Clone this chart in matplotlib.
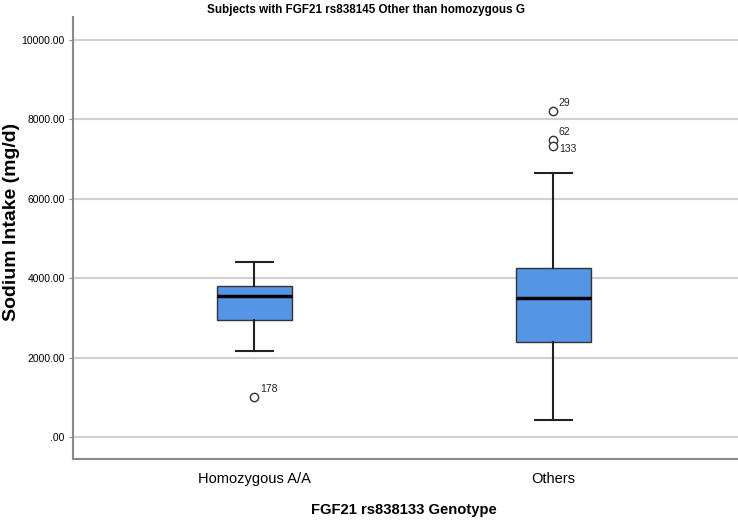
import matplotlib
matplotlib.use('Agg')
import matplotlib.pyplot as plt

# datos
categorias = ["Homozygous A/A", "Others"]
# (whislo, q1, mediana, q3, whishi)
cajas = [
    (2164, 2959, 3555, 3806, 4403),
    (428, 2390, 3512, 4259, 6657),
]
atipicos = [
    [(1021, "178")],
    [(8209, "29"), (7479, "62"), (7336, "133")],
]
yticks = [0, 2000, 4000, 6000, 8000, 10000]
ytick_labels = [".00", "2000.00", "4000.00", "6000.00", "8000.00", "10000.00"]

plt.rcParams['font.family'] = ['Liberation Sans', 'DejaVu Sans']

fig = plt.figure(figsize=(7.38, 5.23), dpi=100)
ax = fig.add_axes([0.0989, 0.1218, 0.9011, 0.8452])

stats = []
for cat, c in zip(categorias, cajas):
    stats.append(dict(label=cat, whislo=c[0], q1=c[1], med=c[2], q3=c[3], whishi=c[4], fliers=[]))

ax.bxp(stats, positions=[0, 1], widths=0.25, patch_artist=True, showfliers=False,
       boxprops=dict(facecolor='#5595e6', edgecolor='#333333', linewidth=1.0),
       medianprops=dict(color='black', linewidth=2.5),
       whiskerprops=dict(color='#222222', linewidth=1.5),
       capprops=dict(color='#222222', linewidth=1.5),
       capwidths=0.125, zorder=3)

# puntos atipicos con su etiqueta
for i, outs in enumerate(atipicos):
    for val, lab in outs:
        ax.plot(i, val, marker='o', markersize=6, markerfacecolor='white',
                markeredgecolor='#333333', markeredgewidth=1.0, zorder=4)
        if lab == "133":
            ax.annotate(lab, (i, val), xytext=(4, 1), textcoords='offset points',
                        fontsize=7.5, color='#222222', ha='left', va='top')
        else:
            ax.annotate(lab, (i, val), xytext=(4, 2), textcoords='offset points',
                        fontsize=7.5, color='#222222', ha='left', va='bottom')

ax.set_xlim(-0.606, 1.618)
ax.set_ylim(-553, 10566)
ax.set_yticks(yticks)
ax.set_yticklabels(ytick_labels, fontsize=7.5)
ax.set_xticks([0, 1])
ax.set_xticklabels(categorias, fontsize=10.5)
ax.yaxis.grid(True, color='#d0d0d0', linewidth=1.5, zorder=0)
ax.set_axisbelow(True)
ax.spines['top'].set_visible(False)
ax.spines['right'].set_visible(False)
ax.spines['left'].set_color('#888888')
ax.spines['bottom'].set_color('#888888')
ax.spines['left'].set_linewidth(1.5)
ax.spines['bottom'].set_linewidth(1.5)
ax.tick_params(axis='y', length=3, color='#888888', pad=3)
ax.tick_params(axis='x', length=0, pad=9)

ax.set_ylabel("Sodium Intake (mg/d)", fontsize=14, fontweight='bold')
ax.yaxis.set_label_coords(-0.079, 0.537)
ax.set_xlabel("FGF21 rs838133 Genotype", fontsize=10.6, fontweight='bold')
ax.xaxis.set_label_coords(0.497, -0.099)
fig.text(0.496, 0.981, "Subjects with FGF21 rs838145 Other than homozygous G",
         ha='center', va='center', fontsize=8.4, fontweight='bold')

fig.savefig("out.png", dpi=100)
